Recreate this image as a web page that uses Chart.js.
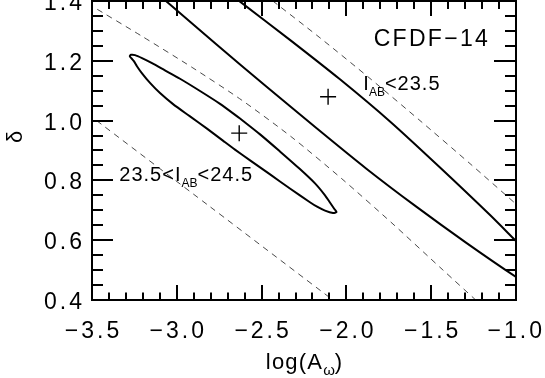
<!DOCTYPE html>
<html>
<head>
<meta charset="utf-8">
<script src="https://cdn.jsdelivr.net/npm/chart.js@4.4.0/dist/chart.umd.min.js"></script>
<style>
  html, body { margin: 0; padding: 0; background: #fff; }
  #wrap { width: 545px; height: 378px; }
</style>
</head>
<body>
<div id="wrap"><canvas id="chart" width="545" height="378"></canvas></div>
<script>
// --- data ---
const xTicks = [-3.5, -3.0, -2.5, -2.0, -1.5, -1.0];
const xTickLabels = ['\u22123.5', '\u22123.0', '\u22122.5', '\u22122.0', '\u22121.5', '\u22121.0'];
const yTicks = [0.4, 0.6, 0.8, 1.0, 1.2, 1.4];
const yTickLabels = ['0.4', '0.6', '0.8', '1.0', '1.2', '1.4'];

// closed contour, 23.5 < I_AB < 24.5
const faintX = [-2.627, -2.509, -2.392, -2.274, -2.185, -2.126, -2.097, -2.073, -2.058,
                -2.079, -2.126, -2.173, -2.215, -2.333, -2.450, -2.568, -2.657, -2.728, -2.822,
                -2.922, -3.022, -3.099, -3.158, -3.205, -3.235, -3.252, -3.267, -3.277,
                -3.270, -3.246, -3.205, -3.146, -3.070, -2.981, -2.863, -2.745, -2.627];
const faintY = [1.007, 0.954, 0.897, 0.838, 0.790, 0.750, 0.726, 0.706, 0.694,
                0.691, 0.699, 0.712, 0.727, 0.773, 0.820, 0.867, 0.903, 0.933, 0.973,
                1.014, 1.055, 1.092, 1.126, 1.158, 1.182, 1.198, 1.208, 1.215,
                1.220, 1.219, 1.209, 1.192, 1.168, 1.140, 1.099, 1.056, 1.007];

// open contour, I_AB < 23.5 (two branches leaving the frame)
const brightLowX = [-3.099, -3.064, -2.769, -2.474, -2.179, -1.884, -1.590, -1.295, -1.000, -0.917];
const brightLowY = [1.417, 1.400, 1.256, 1.115, 0.976, 0.840, 0.713, 0.592, 0.477, 0.449];
const brightHighX = [-2.686, -2.627, -2.333, -2.038, -1.743, -1.448, -1.153, -1.000, -0.917];
const brightHighY = [1.423, 1.398, 1.270, 1.138, 0.997, 0.843, 0.684, 0.597, 0.550];

// dashed reference curves
const dashAX = [-3.524, -3.205, -2.910, -2.616, -2.321, -2.026, -1.731, -1.436, -1.224];
const dashAY = [1.391, 1.282, 1.178, 1.068, 0.944, 0.805, 0.657, 0.503, 0.393];
const dashBX = [-3.524, -2.804, -2.061];
const dashBY = [1.022, 0.712, 0.392];
const dashCX = [-2.486, -2.156, -1.861, -1.566, -1.271, -0.976];
const dashCY = [1.423, 1.277, 1.141, 1.000, 0.856, 0.709];

// best-fit centres
const centreX = [-2.632, -2.108];
const centreY = [0.958, 1.080];

function pairs(xs, ys) {
    return xs.map((v, i) => ({ x: v, y: ys[i] }));
}

const FONT = '"Liberation Sans", Arial, Helvetica, sans-serif';

function curve(xs, ys, dashed) {
    return {
        data: pairs(xs, ys),
        showLine: true,
        pointRadius: 0,
        borderColor: dashed ? '#4a4a4a' : '#000',
        borderWidth: dashed ? 1 : 2,
        borderDash: dashed ? [6, 5] : [],
        tension: 0.25,
        fill: false,
        clip: 0
    };
}

// draws text made of pieces (for the subscripts)
function drawRich(ctx, parts, x, y) {
    let cx = x;
    parts.forEach(p => {
        ctx.font = p.size + 'px ' + FONT;
        ctx.letterSpacing = (p.ls || 0) + 'px';
        ctx.fillText(p.t, cx, y + (p.dy || 0));
        cx += ctx.measureText(p.t).width;
    });
    return cx - x;
}

function richWidth(ctx, parts) {
    let w = 0;
    parts.forEach(p => {
        ctx.font = p.size + 'px ' + FONT;
        ctx.letterSpacing = (p.ls || 0) + 'px';
        w += ctx.measureText(p.t).width;
    });
    return w;
}

const framePlugin = {
    id: 'frame',
    beforeDraw(chart) {
        const ctx = chart.ctx;
        ctx.save();
        ctx.fillStyle = '#fff';
        ctx.fillRect(0, 0, chart.width, chart.height);
        ctx.restore();
    },
    afterDatasetsDraw(chart) {
        const { ctx, chartArea: a, scales: { x, y } } = chart;
        ctx.save();
        ctx.strokeStyle = '#000';
        ctx.fillStyle = '#000';
        ctx.lineWidth = 2;

        const seg = (x1, y1, x2, y2) => {
            ctx.beginPath();
            ctx.moveTo(x1, y1);
            ctx.lineTo(x2, y2);
            ctx.stroke();
        };

        // ticks along x (minor every 0.1)
        for (let i = 0; i <= 25; i++) {
            const px = Math.round(x.getPixelForValue(xTicks[0] + i * 0.1));
            const major = i % 5 === 0;
            seg(px, a.bottom, px, a.bottom - (major ? 15 : 7.5));
            seg(px, a.top, px, a.top + (major ? 15 : 8));
        }
        // ticks along y (minor every 0.05)
        for (let i = 0; i <= 20; i++) {
            const py = Math.round(y.getPixelForValue(yTicks[0] + i * 0.05));
            const major = i % 4 === 0;
            seg(a.left, py, a.left + (major ? 21 : 11), py);
            seg(a.right, py, a.right - (major ? 22 : 11), py);
        }
        ctx.strokeRect(a.left, a.top, a.right - a.left, a.bottom - a.top);

        // tick labels
        ctx.font = '23px ' + FONT;
        ctx.letterSpacing = '3px';
        ctx.textBaseline = 'alphabetic';
        ctx.textAlign = 'left';
        xTicks.forEach((v, i) => {
            const w = ctx.measureText(xTickLabels[i]).width - 3;
            let left = x.getPixelForValue(v) - w / 2;
            if (left + w > 542) left = 542 - w;
            ctx.fillText(xTickLabels[i], left, 338);
        });
        yTicks.forEach((v, i) => {
            const w = ctx.measureText(yTickLabels[i]).width - 3;
            ctx.fillText(yTickLabels[i], 82 - w, y.getPixelForValue(v) + 9);
        });

        // x title: log(A_omega)
        const xt = [
            { t: 'log(A', size: 22, ls: 1.2 },
            { t: '\u03c9', size: 15, dy: 6 },
            { t: ')', size: 22 }
        ];
        const xtw = richWidth(ctx, xt);
        drawRich(ctx, xt, (a.left + a.right) / 2 - xtw / 2, 369);

        // y title: delta
        ctx.save();
        ctx.translate(22, 137);
        ctx.rotate(-Math.PI / 2);
        ctx.font = '22px ' + FONT;
        ctx.letterSpacing = '0px';
        ctx.textAlign = 'center';
        ctx.fillText('\u03b4', 0, 0);
        ctx.restore();

        // annotations
        ctx.textAlign = 'left';
        drawRich(ctx, [{ t: 'CFDF\u221214', size: 23, ls: 2.3 }],
            x.getPixelForValue(-1.839), y.getPixelForValue(1.248));
        drawRich(ctx, [
            { t: 'I', size: 20 },
            { t: 'AB', size: 12, dy: 6 },
            { t: '<23.5', size: 20, ls: 1 }
        ], x.getPixelForValue(-1.900), y.getPixelForValue(1.103));
        drawRich(ctx, [
            { t: '23.5<I', size: 20, ls: 1 },
            { t: 'AB', size: 12, dy: 6 },
            { t: '<24.5', size: 20, ls: 1 }
        ], x.getPixelForValue(-3.339), y.getPixelForValue(0.797));

        ctx.restore();
    }
};

const ctx = document.getElementById('chart').getContext('2d');
const chart = new Chart(ctx, {
    type: 'scatter',
    data: {
        datasets: [
            curve(dashAX, dashAY, true),
            curve(dashBX, dashBY, true),
            curve(dashCX, dashCY, true),
            curve(faintX, faintY, false),
            curve(brightLowX, brightLowY, false),
            curve(brightHighX, brightHighY, false),
            {
                data: pairs(centreX, centreY),
                showLine: false,
                pointStyle: 'cross',
                pointRadius: 8,
                pointBorderWidth: 1.4,
                borderColor: '#000',
                backgroundColor: '#000'
            }
        ]
    },
    options: {
        responsive: false,
        animation: false,
        devicePixelRatio: 1,
        layout: { autoPadding: false, padding: { left: 92, right: 29, top: 1, bottom: 78 } },
        plugins: {
            legend: { display: false },
            tooltip: { enabled: false }
        },
        scales: {
            x: { type: 'linear', min: -3.5, max: -1.0, display: false },
            y: { type: 'linear', min: 0.4, max: 1.4, display: false }
        }
    },
    plugins: [framePlugin]
});
</script>
</body>
</html>
